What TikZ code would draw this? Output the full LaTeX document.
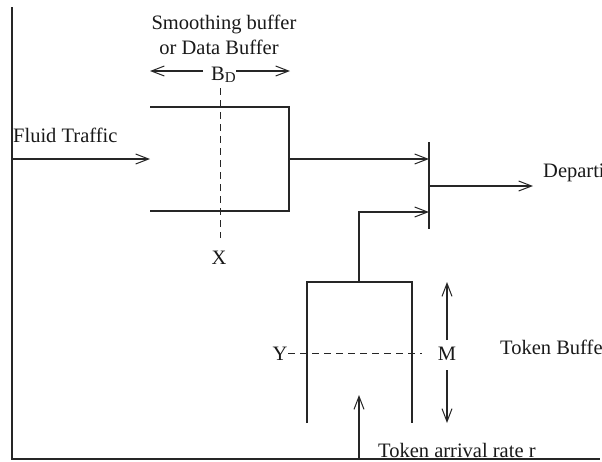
\documentclass[tikz,border=0pt]{standalone}
\usepackage{fontspec}
\setmainfont{Liberation Serif}
\usetikzlibrary{arrows.meta}
\begin{document}
\begin{tikzpicture}[x=1pt,y=-1pt,
  ln/.style={line width=1.1pt, draw=black!85},
  arr/.style={ln, -{Straight Barb[length=13pt,width=10pt,line width=1pt]}},
  dsh/.style={line width=1pt, draw=black!85, dash pattern=on 7pt off 5pt},
  lbl/.style={font=\fontsize{20.5}{24}\selectfont, inner sep=0pt, text=black!90},
]
\useasboundingbox (0,0) rectangle (602,461);
\clip (0,0) rectangle (602,461);

% axes
\coordinate (axtop) at (12,7);
\coordinate (axorig) at (12,459);
\coordinate (axright) at (600,459);
\draw[ln] (axtop) -- (axorig) -- (axright);

% labels
\node[lbl, anchor=base west] (fluid) at (13,142) {Fluid Traffic};
\node[lbl, anchor=base] (smooth) at (224,29) {Smoothing buffer};
\node[lbl, anchor=base] (ordata) at (219,54) {or Data Buffer};
\node[lbl, anchor=base west] (bd) at (211,80) {B\raisebox{-2pt}{\fontsize{15}{15}\selectfont D}};
\node[lbl, anchor=base] (xl) at (219,264) {X};
\node[lbl, anchor=base west] (dep) at (543,177) {Departing Traffic};
\node[lbl, anchor=base] (yl) at (280,360) {Y};
\node[lbl, anchor=base] (ml) at (447,360) {M};
\node[lbl, anchor=base west] (tbuf) at (500,354) {Token Buffer};
\node[lbl, anchor=base west] (tarr) at (378,457) {Token arrival rate r};

% data buffer
\coordinate (dbtl) at (150,107);
\coordinate (dbtr) at (289,107);
\coordinate (dbbr) at (289,211);
\coordinate (dbbl) at (150,211);
\draw[ln] (dbtl) -- (dbtr) -- (dbbr) -- (dbbl);

% B_D span arrows
\coordinate (bdls) at (203,71);
\coordinate (bdl) at (150,71);
\coordinate (bdrs) at (236,71);
\coordinate (bdr) at (290,71);
\draw[arr] (bdls) -- (bdl);
\draw[arr] (bdrs) -- (bdr);

% X dashed line
\coordinate (xtop) at (220,88);
\coordinate (xbot) at (220,238);
\draw[dsh] (xtop) -- (xbot);

% fluid traffic in
\coordinate (fin) at (12,159);
\coordinate (fout) at (150,159);
\draw[arr] (fin) -- (fout);

% buffer output to multiplexer bar
\coordinate (dbout) at (289,159);
\coordinate (mux1) at (429,159);
\draw[arr] (dbout) -- (mux1);

% multiplexer bar
\coordinate (muxtop) at (429,142);
\coordinate (muxbot) at (429,229);
\draw[ln] (muxtop) -- (muxbot);

% departure
\coordinate (depfrom) at (429,186);
\coordinate (depto) at (533,186);
\draw[arr] (depfrom) -- (depto);

% token buffer
\coordinate (tbl) at (307,423);
\coordinate (tbtl) at (307,282);
\coordinate (tbtr) at (412,282);
\coordinate (tbr) at (412,423);
\draw[ln] (tbl) -- (tbtl) -- (tbtr) -- (tbr);

% token path to bar
\coordinate (tkout) at (359,282);
\coordinate (tkbend) at (359,212);
\coordinate (mux2) at (429,212);
\draw[arr] (tkout) -- (tkbend) -- (mux2);

% Y dashed level
\coordinate (ys) at (288,353);
\coordinate (ye) at (422,353);
\draw[dsh] (ys) -- (ye);

% M arrows
\coordinate (mus) at (447,340);
\coordinate (mut) at (447,282);
\coordinate (mds) at (447,370);
\coordinate (mdt) at (447,423);
\draw[arr] (mus) -- (mut);
\draw[arr] (mds) -- (mdt);

% token arrival
\coordinate (tas) at (359,459);
\coordinate (tat) at (359,395);
\draw[arr] (tas) -- (tat);
\end{tikzpicture}
\end{document}
